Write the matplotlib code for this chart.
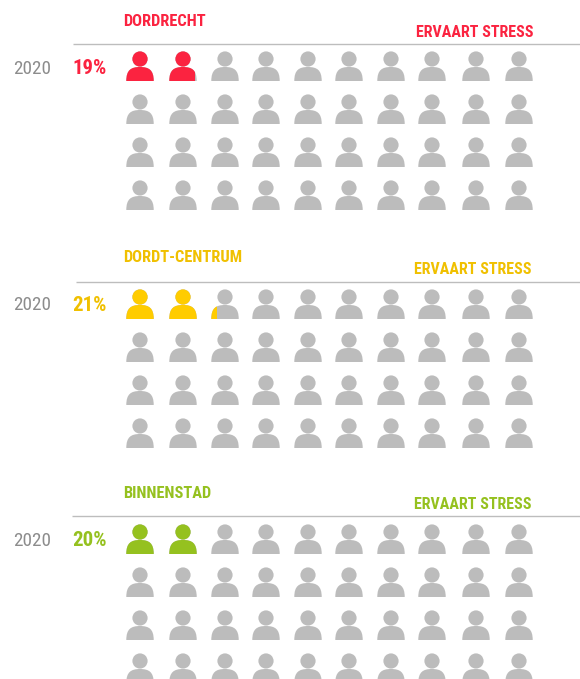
import matplotlib
matplotlib.use("Agg")
import matplotlib.pyplot as plt
from matplotlib.path import Path
from matplotlib.patches import PathPatch, Rectangle
from matplotlib.transforms import Affine2D

names = ["DORDRECHT", "DORDT-CENTRUM", "BINNENSTAD"]
percent = [19, 21, 20]
filled_icons = [1.93, 2.2, 2.0]
years = ["2020", "2020", "2020"]
subtitle = "ERVAART STRESS"
colors = ["#fb2340", "#ffcc00", "#95c11f"]
text_colors = ["#fb2340", "#f0c000", "#95c11f"]
grey = "#bcbcbc"

col_x = [140, 183, 225, 266, 308, 349, 391, 432, 476, 519]
n_rows = 4
row_step = 43
head_y = [59, 297, 532]
rule_y = [44, 282, 516]
rule_x0 = [73, 76, 72]
title_y = [21.5, 257.5, 493.5]
title_x = [123.5, 123, 123]
sub_y = [32.5, 269.5, 504.5]
sub_x = [533, 531, 531]
pct_y = [68.5, 305.5, 540.5]

fig = plt.figure(figsize=(5.8, 6.79), dpi=100)
ax = fig.add_axes([0, 0, 1, 1])
ax.set_xlim(0, 580)
ax.set_ylim(679, 0)
ax.axis("off")


def person():
    c = Path.unit_circle()
    head = Path(c.vertices * 7.6, c.codes)
    # body, relative to head centre; y grows downward
    v = [(-13.7, 22), (-13.7, 11), (-9, 8), (0, 8), (9, 8), (13.7, 11), (13.7, 22), (-13.7, 22)]
    k = [Path.MOVETO, Path.CURVE4, Path.CURVE4, Path.CURVE4, Path.CURVE4, Path.CURVE4, Path.CURVE4, Path.CLOSEPOLY]
    return Path.make_compound_path(head, Path(v, k))


icon = person()
ICON_W = 27.4

for i, name in enumerate(names):
    ax.plot([rule_x0[i], 580], [rule_y[i]] * 2, color="#bdbdbd", lw=1.0, solid_capstyle="butt")
    ax.text(title_x[i], title_y[i], name, color=text_colors[i], family="Roboto Condensed", weight="bold",
            fontsize=11.8, va="center", ha="left")
    ax.text(sub_x[i], sub_y[i], subtitle, color=text_colors[i], family="Roboto Condensed", weight="bold",
            fontsize=11.5, va="center", ha="right")
    ax.text(13.5, pct_y[i], years[i], color="#8c8c8c", family="Roboto Condensed",
            fontsize=13.8, va="center", ha="left")
    ax.text(72.5, pct_y[i], f"{percent[i]}%", color=text_colors[i], family="Roboto Condensed", weight="bold",
            fontsize=15, va="center", ha="left")
    for r in range(n_rows):
        for c, x in enumerate(col_x):
            tr = Affine2D().translate(x, head_y[i] + r * row_step) + ax.transData
            ax.add_patch(PathPatch(icon, transform=tr, fc=grey, ec="none"))
            frac = max(0, min(1, filled_icons[i] - c)) if r == 0 else 0
            if frac > 0:
                p = PathPatch(icon, transform=tr, fc=colors[i], ec="none")
                ax.add_patch(p)
                clip = Rectangle((x - ICON_W / 2, head_y[i] - 10), ICON_W * frac, 40,
                                 transform=ax.transData)
                p.set_clip_path(clip)

fig.savefig("out.png", dpi=100)
